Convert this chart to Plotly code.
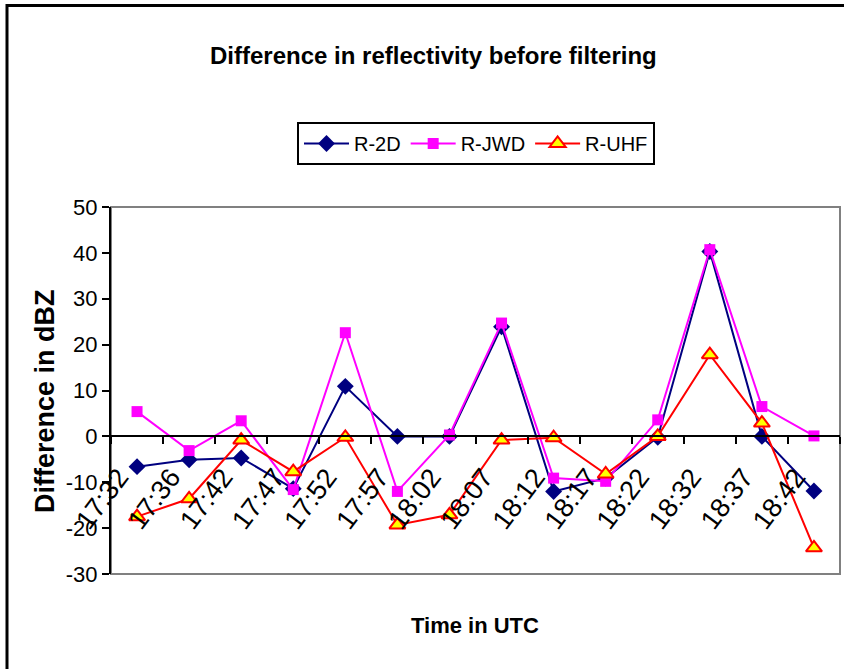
import plotly.graph_objects as go

times = ["17:32", "17:36", "17:42", "17:47", "17:52", "17:57", "18:02",
         "18:07", "18:12", "18:17", "18:22", "18:32", "18:37", "18:42"]
r_2d = [-6.6, -5.1, -4.7, -11.4, 10.9, 0.0, 0.0, 23.9, -12.0, -9.1, -0.2, 40.3, 0.0, -11.9]
r_jwd = [5.4, -3.1, 3.4, -11.6, 22.6, -12.0, 0.3, 24.7, -9.1, -9.8, 3.6, 40.7, 6.5, 0.1]
r_uhf = [-17.5, -13.6, -0.8, -7.7, -0.2, -19.3, -17.1, -0.8, -0.3, -8.2, 0.0, 17.8, 2.9, -24.3]
y_ticks = [-30, -20, -10, 0, 10, 20, 30, 40, 50]
y_tick_text = ["-30", "-20", "-10", "0", "10", "20", "30", "40", "50"]

FONT = "Liberation Sans, Arial, sans-serif"
W, H = 844, 669
L, R, T, B = 111, 4, 207, 95
pw, ph = W - L - R, H - T - B

def px_x(x):
    return (x - L) / pw

def px_y(y):
    return (H - B - y) / ph

fig = go.Figure()
fig.add_trace(go.Scatter(
    x=times, y=r_2d, name="R-2D", mode="lines+markers",
    line=dict(color="#000080", width=2),
    marker=dict(symbol="diamond", size=13, color="#000080")))
fig.add_trace(go.Scatter(
    x=times, y=r_jwd, name="R-JWD", mode="lines+markers",
    line=dict(color="#FF00FF", width=2),
    marker=dict(symbol="square", size=11, color="#FF00FF")))
fig.add_trace(go.Scatter(
    x=times, y=r_uhf, name="R-UHF", mode="lines+markers",
    line=dict(color="#FF0000", width=2),
    marker=dict(symbol="triangle-up", size=14, color="#FFFF00",
                line=dict(color="#FF0000", width=2))))

fig.update_layout(
    width=W, height=H,
    margin=dict(l=L, r=R, t=T, b=B),
    paper_bgcolor="white", plot_bgcolor="white",
    font=dict(family=FONT, size=20, color="black"),
    showlegend=True,
    legend=dict(orientation="h", x=px_x(297), y=px_y(122),
                xanchor="left", yanchor="top",
                bordercolor="black", borderwidth=2,
                font=dict(family=FONT, size=20, color="black"),
                itemwidth=45, tracegroupgap=0),
    xaxis=dict(type="category", anchor="free", position=30 / 80,
               showline=True, linecolor="black", linewidth=2,
               ticks="outside", tickson="boundaries", ticklen=7,
               tickcolor="black", tickwidth=2,
               tickangle=-53, tickfont=dict(size=27),
               ticklabelstandoff=13, ticklabelshift=-18,
               showgrid=False, zeroline=False, range=[-0.5, 13.5]),
    yaxis=dict(range=[-30, 50], tickvals=y_ticks, ticktext=y_tick_text,
               showline=True,
               linecolor="black", linewidth=2, ticks="outside",
               ticklen=7, tickcolor="black", tickwidth=2,
               tickfont=dict(size=22), showgrid=False, zeroline=False),
    shapes=[
        dict(type="rect", xref="paper", yref="paper", x0=0, x1=1, y0=0, y1=1,
             line=dict(color="#808080", width=2), layer="below"),
        dict(type="line", xref="paper", yref="paper",
             x0=px_x(7), x1=px_x(7), y0=px_y(4), y1=px_y(700),
             line=dict(color="black", width=3)),
        dict(type="line", xref="paper", yref="paper",
             x0=px_x(6), x1=px_x(900), y0=px_y(5.5), y1=px_y(5.5),
             line=dict(color="black", width=3)),
    ],
    annotations=[
        dict(text="Difference in reflectivity before filtering",
             xref="paper", yref="paper", x=px_x(433), y=px_y(55),
             xanchor="center", yanchor="middle", showarrow=False,
             font=dict(family=FONT, size=24, weight="bold")),
        dict(text="Time in UTC", xref="paper", yref="paper",
             x=px_x(475), y=px_y(625), xanchor="center", yanchor="middle",
             showarrow=False, font=dict(family=FONT, size=22, weight="bold")),
        dict(text="Difference in dBZ", xref="paper", yref="paper",
             x=px_x(45), y=px_y(401), xanchor="center", yanchor="middle",
             textangle=-90, showarrow=False,
             font=dict(family=FONT, size=27, weight="bold")),
    ],
)

fig.write_html("out.html")
